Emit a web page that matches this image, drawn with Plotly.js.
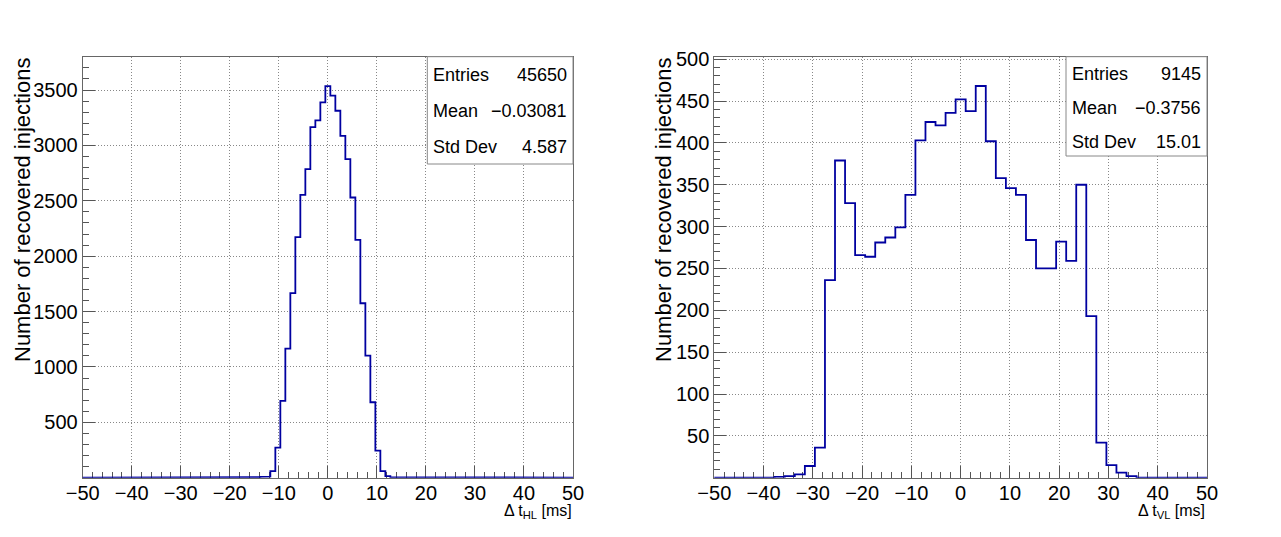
<!DOCTYPE html>
<html>
<head>
<meta charset="utf-8">
<script src="https://cdn.plot.ly/plotly-3.0.1.min.js"></script>
<style>
  body { margin: 0; background: #fff; }
  #plot { width: 1281px; height: 537px; }
</style>
</head>
<body>
<div id="plot"></div>
<script>
// H-L timing difference, bins of 1.02 ms, first filled bin index -16
var hlBinWidth = 1.02;
var hlFirstBin = -16;
var hlCounts = [1, 2, 6, 8, 10, 60, 271, 693, 1166, 1666, 2172, 2554, 2786, 3166, 3226, 3389,
  3536, 3449, 3313, 3087, 2877, 2530, 2148, 1575, 1102, 681, 244, 60, 15, 5, 2];
var hlStats = [["Entries", "45650"], ["Mean", "\u22120.03081"], ["Std Dev", "4.587"]];

// V-L timing difference, bins of 2.04 ms, first filled bin index -18
var vlBinWidth = 2.04;
var vlFirstBin = -18;
var vlCounts = [1, 2, 4, 14, 36, 236, 379, 328, 266, 264, 281, 287, 299, 338, 403, 425, 421,
  436, 452, 438, 468, 402, 358, 346, 338, 284, 250, 250, 282, 259, 350, 193, 42, 15, 6, 2];
var vlStats = [["Entries", "9145"], ["Mean", "\u22120.3756"], ["Std Dev", "15.01"]];

var xRange = [-50, 50];
var yTitle = "Number of recovered injections";

var W = 1281, H = 537;
function px(x) { return x / W; }
function py(y) { return 1 - y / H; }

// step outline over the whole axis range, empty bins at zero
function steps(first, counts, w) {
  var xs = [], ys = [];
  var kLo = Math.floor(xRange[0] / w) - 1, kHi = Math.ceil(xRange[1] / w) + 1;
  for (var k = kLo; k <= kHi; k++) {
    var i = k - first;
    var v = (i >= 0 && i < counts.length) ? counts[i] : 0;
    xs.push((k - 0.5) * w, (k + 0.5) * w);
    ys.push(v, v);
  }
  return { x: xs, y: ys };
}

function range(a, b, s) {
  var out = [];
  for (var v = a; v <= b + 1e-9; v += s) out.push(v);
  return out;
}

var font = "Liberation Sans, Arial, Helvetica, sans-serif";
var lineCol = "#0000a0";

var s1 = steps(hlFirstBin, hlCounts, hlBinWidth);
var s2 = steps(vlFirstBin, vlCounts, vlBinWidth);

var data = [
  { x: s1.x, y: s1.y, xaxis: "x", yaxis: "y", mode: "lines",
    line: { color: lineCol, width: 1.8, shape: "linear" }, hoverinfo: "skip" },
  { x: s2.x, y: s2.y, xaxis: "x2", yaxis: "y2", mode: "lines",
    line: { color: lineCol, width: 1.8, shape: "linear" }, hoverinfo: "skip" }
];

function xAxis(dom, anchor) {
  return {
    domain: dom, anchor: anchor, range: xRange, tickmode: "linear", tick0: 0, dtick: 10,
    ticks: "inside", ticklen: 12, tickcolor: "#555", tickwidth: 1,
    minor: { ticks: "inside", ticklen: 6, dtick: 2, tick0: 0, tickcolor: "#555", showgrid: false },
    showgrid: true, gridcolor: "#888", griddash: "1px,2px", gridwidth: 1,
    showline: true, linecolor: "#666", linewidth: 1, mirror: true,
    zeroline: false, layer: "below traces", ticklabelstandoff: -3,
    tickfont: { family: font, size: 20, color: "#000" }, fixedrange: true
  };
}
function yAxis(dom, anchor, top, major, minorStep) {
  return {
    domain: dom, anchor: anchor, range: [0, top],
    tickmode: "array", tickvals: range(major, top, major),
    ticks: "inside", ticklen: 12, tickcolor: "#555", tickwidth: 1,
    minor: { ticks: "inside", ticklen: 6, dtick: minorStep, tick0: 0, tickcolor: "#555", showgrid: false },
    showgrid: true, gridcolor: "#888", griddash: "1px,2px", gridwidth: 1,
    showline: true, linecolor: "#666", linewidth: 1, mirror: true,
    zeroline: false, layer: "below traces",
    tickfont: { family: font, size: 20, color: "#000" }, fixedrange: true
  };
}

var yDom = [py(477.7), py(56.7)];
var layout = {
  width: W, height: H, showlegend: false,
  margin: { l: 0, r: 0, t: 0, b: 0 },
  paper_bgcolor: "#fff", plot_bgcolor: "#fff",
  xaxis: xAxis([px(82.7), px(573)], "y"),
  yaxis: yAxis(yDom, "x", 3801, 500, 100),
  xaxis2: xAxis([px(714.3), px(1207)], "y2"),
  yaxis2: yAxis(yDom, "x2", 503, 50, 10),
  shapes: [],
  annotations: []
};

function statsBox(x0, x1, y0, y1, rows, rowY) {
  layout.shapes.push({ type: "rect", xref: "paper", yref: "paper",
    x0: px(x0), x1: px(x1), y0: py(y1), y1: py(y0),
    fillcolor: "#fff", line: { color: "#888", width: 1 }, layer: "above" });
  rows.forEach(function (r, i) {
    layout.annotations.push({ xref: "paper", yref: "paper", x: px(x0 + 4), y: py(rowY[i]),
      xanchor: "left", yanchor: "middle", showarrow: false, text: r[0],
      font: { family: font, size: 18, color: "#000" } });
    layout.annotations.push({ xref: "paper", yref: "paper", x: px(x1 - 4), y: py(rowY[i]),
      xanchor: "right", yanchor: "middle", showarrow: false, text: r[1],
      font: { family: font, size: 18, color: "#000" } });
  });
}
statsBox(427.3, 573, 56.7, 164, hlStats, [75, 111, 147]);
statsBox(1066, 1207, 56.7, 156, vlStats, [74, 107.5, 142]);

function yLabel(xc) {
  layout.annotations.push({ xref: "paper", yref: "paper", x: px(xc), y: py(56),
    xanchor: "center", yanchor: "top", textangle: -90, showarrow: false, text: yTitle,
    font: { family: font, size: 22, color: "#000" } });
}
yLabel(22);
yLabel(663);

function xLabel(xr, sub) {
  layout.annotations.push({ xref: "paper", yref: "paper", x: px(xr), y: py(511),
    xanchor: "right", yanchor: "middle", showarrow: false,
    text: "\u0394 t<sub>" + sub + "</sub> [ms]",
    font: { family: font, size: 16, color: "#000" } });
}
xLabel(574, "HL");
xLabel(1207, "VL");

Plotly.newPlot("plot", data, layout, { displayModeBar: false, staticPlot: true });
</script>
</body>
</html>
